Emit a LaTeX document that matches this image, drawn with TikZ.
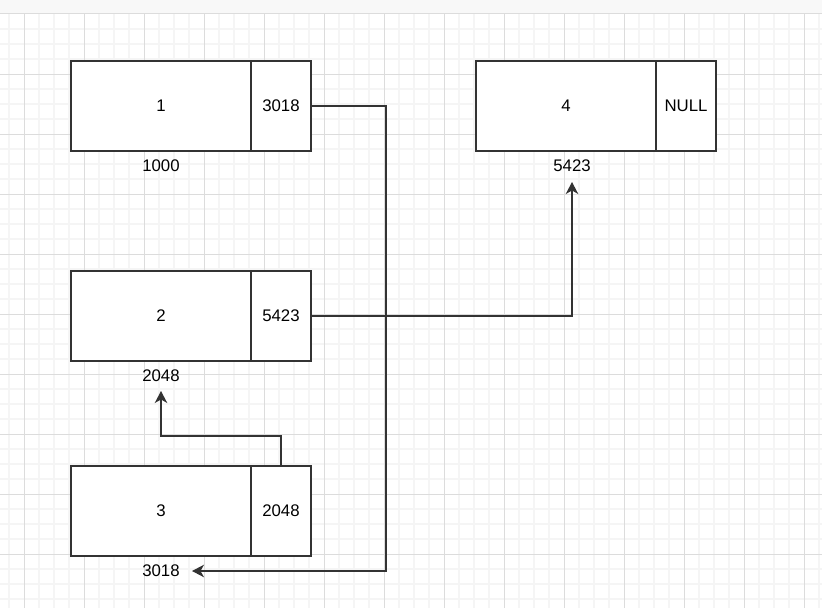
\documentclass[tikz,border=0pt]{standalone}
\usepackage{fontspec}
\setmainfont{Liberation Sans}
\usetikzlibrary{arrows.meta}
\definecolor{edge}{HTML}{333333}
\definecolor{minorgrid}{HTML}{F5F5F5}
\definecolor{majorgrid}{HTML}{DCDCDC}
\definecolor{topband}{HTML}{F8F8F8}
\begin{document}
\begin{tikzpicture}[x=1pt,y=-1pt,
  datacell/.style={draw=edge,line width=1.4pt,fill=white,minimum width=180pt,minimum height=90pt,inner sep=0pt,font=\fontsize{16.8}{19}\selectfont},
  ptrcell/.style={draw=edge,line width=1.4pt,fill=white,minimum width=60pt,minimum height=90pt,inner sep=0pt,font=\fontsize{16.8}{19}\selectfont},
  addr/.style={inner sep=0pt,font=\fontsize{16.8}{19}\selectfont},
  link/.style={draw=edge,line width=1.4pt,-{Stealth[length=12pt,width=12.5pt,inset=3.5pt]}}]
\useasboundingbox (0,0) rectangle (822,608);
% background and grid
\fill[white] (0,0) rectangle (822,608);
\fill[topband] (0,0) rectangle (822,13);
\foreach \x in {9,39,...,822} \draw[minorgrid,line width=1.4pt] (\x,14) -- (\x,608);
\foreach \x in {54,114,...,822} \draw[minorgrid,line width=1.4pt] (\x,14) -- (\x,608);
\foreach \y in {29,44,59,89,104,119,149,164,179,209,224,239,269,284,299,329,344,359,389,404,419,449,464,479,509,524,539,569,584,599} \draw[minorgrid,line width=1.4pt] (0,\y) -- (822,\y);
\foreach \x in {24,84,...,822} \draw[majorgrid,line width=0.8pt] (\x,14) -- (\x,608);
\foreach \y in {74,134,...,608} \draw[majorgrid,line width=0.8pt] (0,\y) -- (822,\y);
\draw[majorgrid,line width=1pt] (0,13.5) -- (822,13.5);
% nodes
\node[datacell] (d1) at (161,106) {1};
\node[ptrcell]  (p1) at (281,106) {3018};
\node[addr]     (a1) at (161,166) {1000};
\node[datacell] (d2) at (161,316) {2};
\node[ptrcell]  (p2) at (281,316) {5423};
\node[addr]     (a2) at (161,376) {2048};
\node[datacell] (d3) at (161,511) {3};
\node[ptrcell]  (p3) at (281,511) {2048};
\node[addr]     (a3) at (161,571) {3018};
\node[datacell] (d4) at (566,106) {4};
\node[ptrcell]  (p4) at (686,106) {NULL};
\node[addr]     (a4) at (572,166) {5423};
% connector end points
\coordinate (b1) at (386,106);
\coordinate (t3) at (192,571);
\coordinate (t4) at (572,182);
\coordinate (k3) at (161,436);
\coordinate (t2) at (161,391);
% connectors
\draw[link] (p1.east) -- (b1) |- (t3);
\draw[link] (p2.east) -| (t4);
\draw[link] (p3.north) |- (k3) -- (t2);
\end{tikzpicture}
\end{document}
